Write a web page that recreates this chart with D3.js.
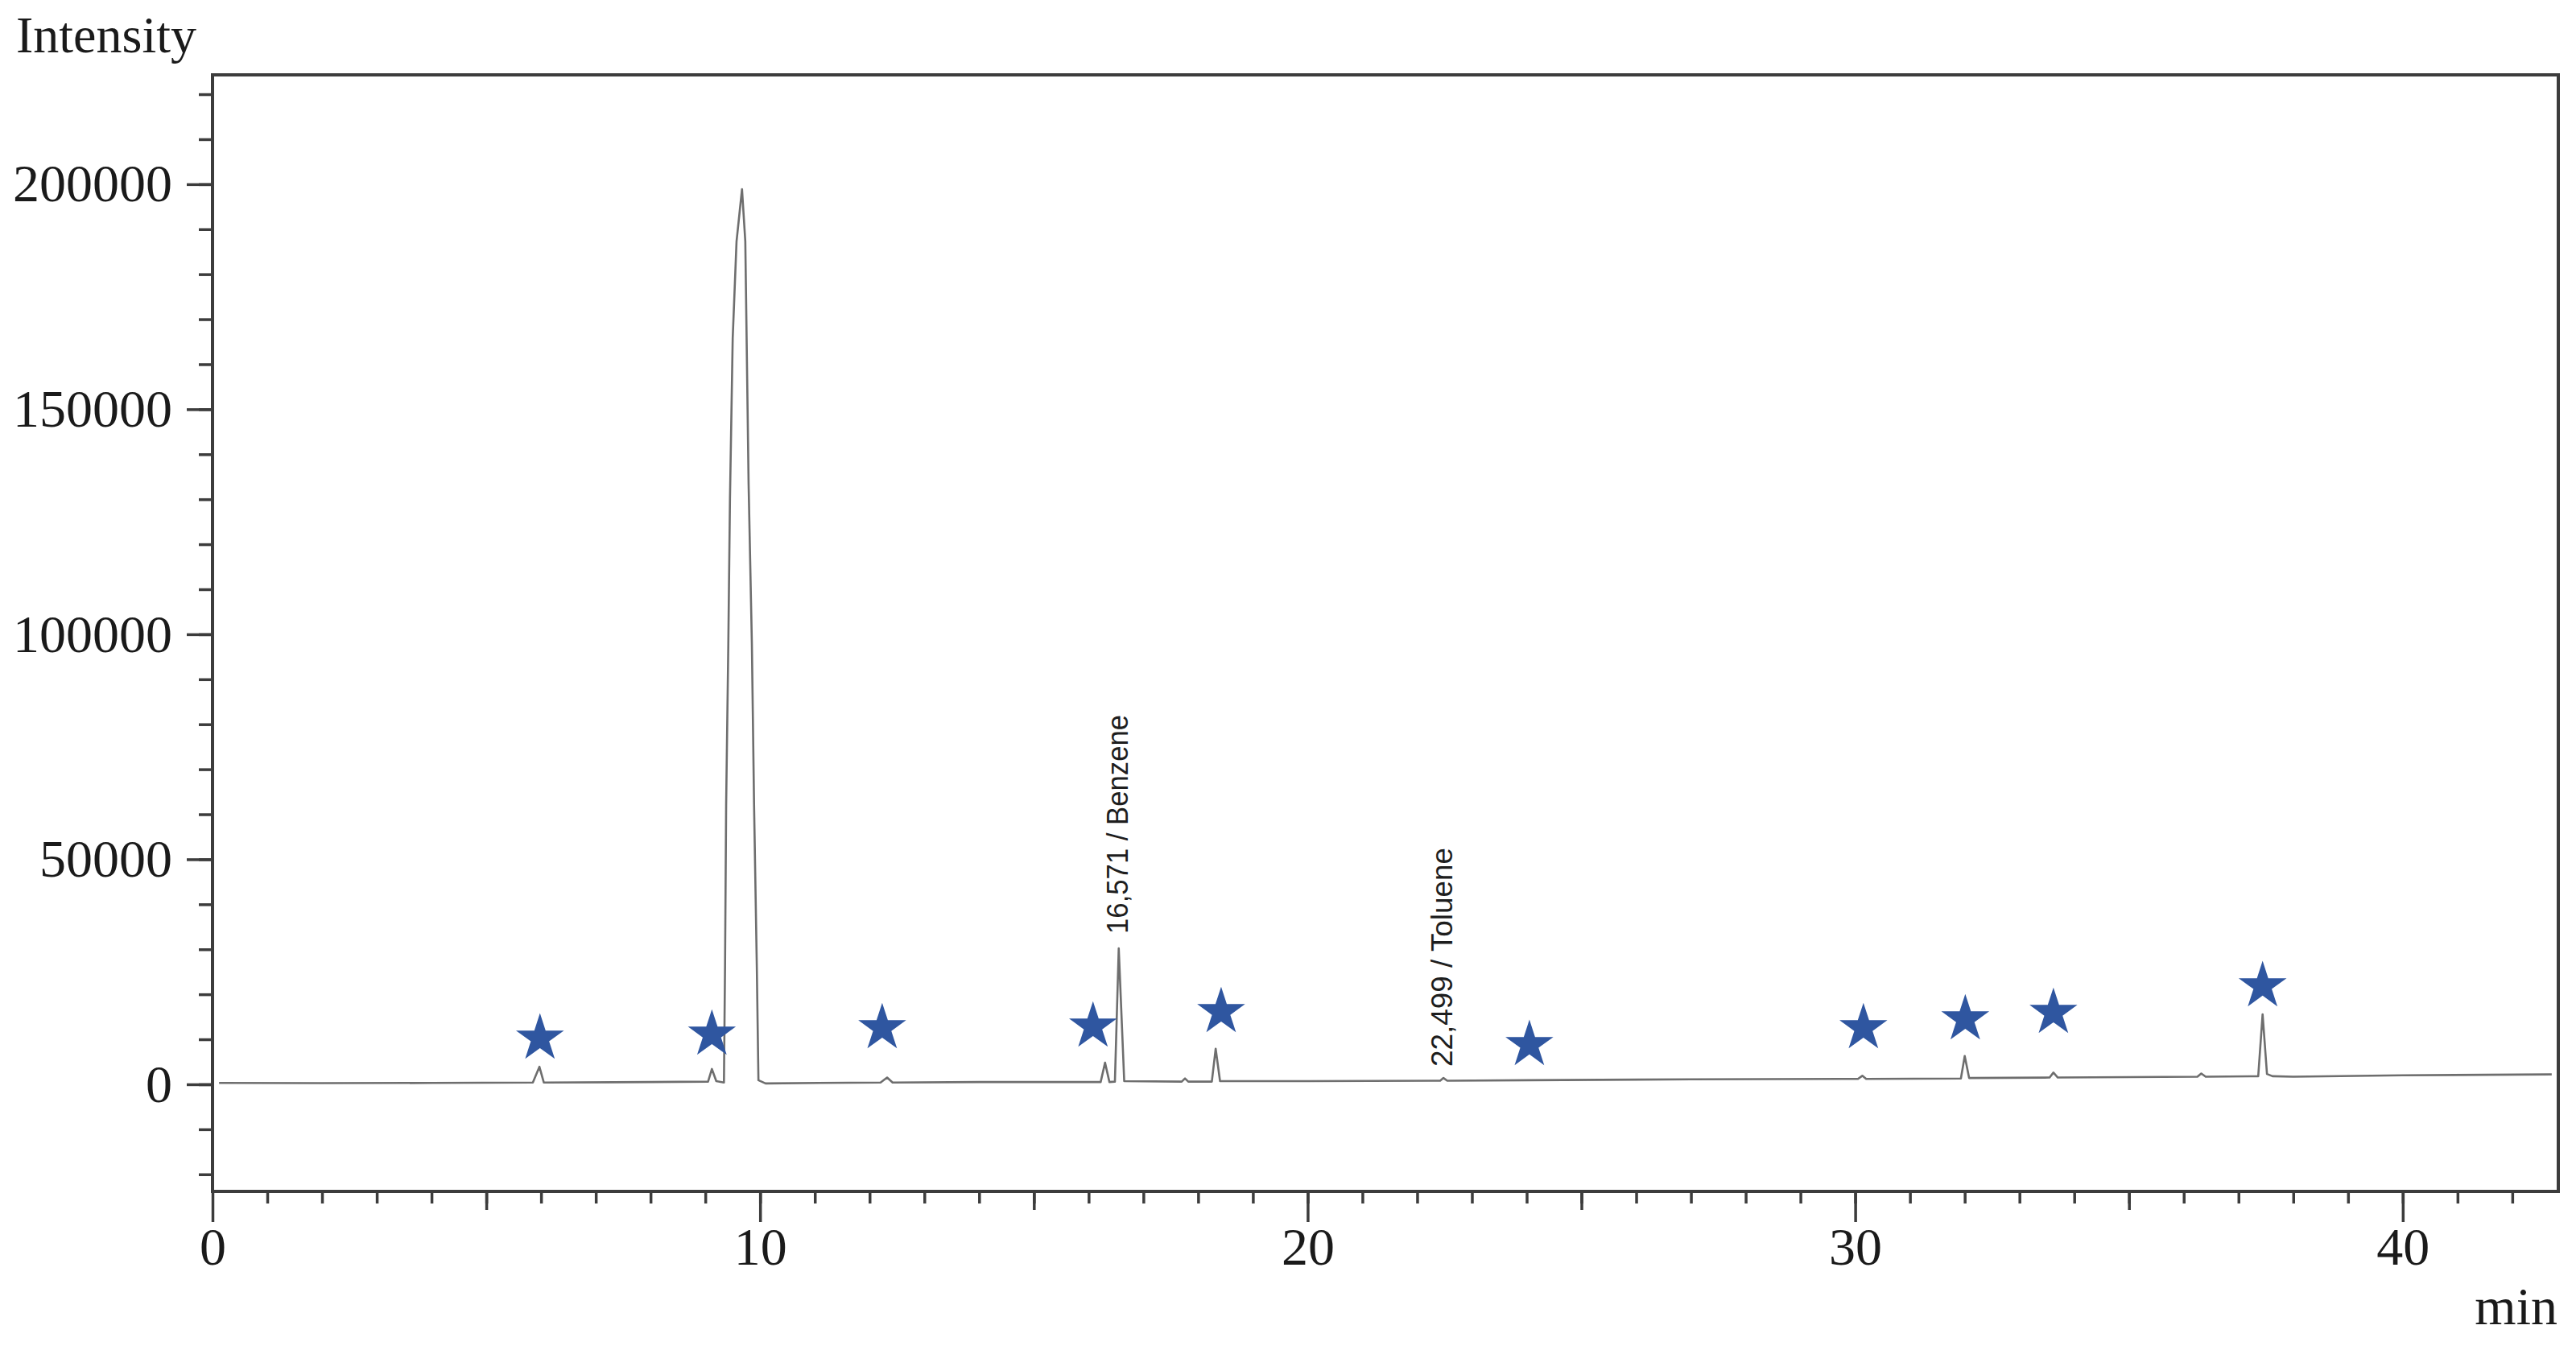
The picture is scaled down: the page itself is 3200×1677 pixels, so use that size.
<!DOCTYPE html>
<html>
<head>
<meta charset="utf-8">
<script src="https://cdn.jsdelivr.net/npm/d3@7"></script>
<style>
  body { margin: 0; background: #fff; }
  .tick text { font-family: "Liberation Serif", "Times New Roman", serif; fill: #1a1a1a; }
</style>
</head>
<body>
<div id="chart"></div>
<script>
//chromatogram trace, retention time (min) and intensity
var times = [0.12, 2.0, 4.0, 5.85, 5.97, 6.05, 8.0, 9.05, 9.12, 9.2,
   9.34, 9.36, 9.38, 9.42, 9.45, 9.50, 9.57, 9.67, 9.73, 9.79,
   9.85, 9.89, 9.94, 9.97, 10.1, 12.2, 12.32, 12.42, 14.0, 16.22,
   16.30, 16.38, 16.48, 16.55, 16.65, 17.7, 17.76, 17.82, 18.25, 18.32,
   18.40, 20.0, 22.42, 22.48, 22.55, 24.0, 27.0, 30.05, 30.13, 30.2,
   31.93, 32.0, 32.08, 33.55, 33.62, 33.7, 35.0, 36.25, 36.32, 36.4,
   37.36, 37.44, 37.52, 37.62, 38.0, 40.0, 42.72];
var intensity = [300, 250, 300, 400, 3900, 400, 500, 600, 3400, 700,
   400, 26300, 62100, 97900, 130100, 165800, 187300, 198900, 187300, 133600,
   97900, 62100, 26300, 900, 200, 400, 1500, 400, 500, 500,
   4800, 500, 600, 30200, 700, 600, 1300, 600, 600, 7900,
   700, 700, 800, 1400, 800, 900, 1100, 1200, 1900, 1200,
   1300, 6300, 1400, 1500, 2600, 1500, 1600, 1700, 2400, 1700,
   1800, 15560, 2300, 1800, 1700, 2000, 2200];

//star markers over the unidentified peaks
var starTimes = [5.98, 9.12, 12.23, 16.08, 18.42, 24.05, 30.15, 32.01, 33.62, 37.44];
var starValues = [10200, 11090, 12520, 12880, 16100, 8770, 12520, 14490, 15920, 21830];

//named peaks
var peakNames = ["16,571 / Benzene", "22,499 / Toluene"];
var peakTimes = [16.571, 22.499];
var peakLabelStart = [33450, 3940];

var xTickLabels = [0, 10, 20, 30, 40];
var yTickLabels = [0, 50000, 100000, 150000, 200000];

function main() {
   drawChromatogram();
}

function drawChromatogram() {
   var width = 3200, height = 1677;
   var left = 264, right = 3178, top = 93, bottom = 1480;

   var svg = d3.select("#chart").append("svg")
      .attr("width", width)
      .attr("height", height)
      .style("display", "block");

   var x = d3.scaleLinear()
      .domain([0, 42.84])
      .range([left, right]);

   var y = d3.scaleLinear()
      .domain([-23800, 224300])
      .range([bottom, top]);

   var axisColor = "#3c3c3c";

   //y axis: minor ticks every 10000, labelled every 50000
   var yMinor = d3.axisLeft(y)
      .tickValues(d3.range(-20000, 220001, 10000))
      .tickSize(17)
      .tickFormat("");
   var yMajor = d3.axisLeft(y)
      .tickValues(yTickLabels)
      .tickSize(32)
      .tickPadding(18)
      .tickFormat(d3.format("d"));

   //x axis: ticks every minute, longer every 5 and 10
   var xMinor = d3.axisBottom(x)
      .tickValues(d3.range(1, 43, 1))
      .tickSize(15)
      .tickFormat("");
   var xMid = d3.axisBottom(x)
      .tickValues(d3.range(5, 43, 10))
      .tickSize(23)
      .tickFormat("");
   var xMajor = d3.axisBottom(x)
      .tickValues(xTickLabels)
      .tickSize(38)
      .tickPadding(6)
      .tickFormat(d3.format("d"));

   [yMinor, yMajor].forEach(function(a) {
      svg.append("g")
         .attr("transform", "translate(" + left + ",0)")
         .call(a);
   });
   [xMinor, xMid, xMajor].forEach(function(a) {
      svg.append("g")
         .attr("transform", "translate(0," + bottom + ")")
         .call(a);
   });

   svg.selectAll(".domain").remove();
   svg.selectAll(".tick line")
      .attr("stroke", axisColor)
      .attr("stroke-width", 3.5);
   svg.selectAll(".tick text")
      .style("font-size", "66px");

   //the frame round the plot
   svg.append("rect")
      .attr("x", left)
      .attr("y", top)
      .attr("width", right - left)
      .attr("height", bottom - top)
      .attr("fill", "none")
      .attr("stroke", axisColor)
      .attr("stroke-width", 4);

   //the trace
   var line = d3.line()
      .x(function(d, i) { return x(times[i]); })
      .y(function(d) { return y(d); });

   svg.append("path")
      .datum(intensity)
      .attr("d", line)
      .attr("fill", "none")
      .attr("stroke", "#6e6e6e")
      .attr("stroke-width", 2.6)
      .attr("stroke-linejoin", "round");

   //stars
   var star = d3.symbol().type(d3.symbolStar).size(1100);
   svg.selectAll(".star")
      .data(starValues)
      .enter().append("path")
         .attr("class", "star")
         .attr("d", star)
         .attr("transform", function(d, i) {
            return "translate(" + x(starTimes[i]) + "," + y(d) + ")";
         })
         .attr("fill", "#2f56a0");

   //peak names, written upwards
   svg.selectAll(".peakName")
      .data(peakNames)
      .enter().append("text")
         .attr("class", "peakName")
         .attr("transform", function(d, i) {
            return "translate(" + (x(peakTimes[i]) + 10) + "," + y(peakLabelStart[i]) + ") rotate(-90)";
         })
         .attr("textLength", 272)
         .attr("lengthAdjust", "spacingAndGlyphs")
         .style("font-family", "'Liberation Sans', Arial, sans-serif")
         .style("font-size", "37px")
         .style("fill", "#1e1e1e")
         .text(function(d) { return d; });

   //axis titles
   svg.append("text")
      .attr("x", 20)
      .attr("y", 65)
      .style("font-family", "'Liberation Serif', 'Times New Roman', serif")
      .style("font-size", "64px")
      .style("fill", "#1a1a1a")
      .text("Intensity");

   svg.append("text")
      .attr("x", 3177)
      .attr("y", 1645)
      .attr("text-anchor", "end")
      .style("font-family", "'Liberation Serif', 'Times New Roman', serif")
      .style("font-size", "66px")
      .style("fill", "#1a1a1a")
      .text("min");
}

main();
</script>
</body>
</html>
